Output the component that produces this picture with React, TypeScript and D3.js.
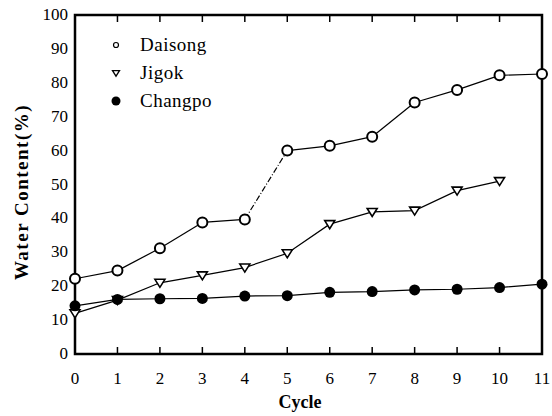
import React, { useEffect, useRef } from 'react';
import * as d3 from 'd3';

const cycles = [0, 1, 2, 3, 4, 5, 6, 7, 8, 9, 10, 11];
const daisong = [22.2, 24.6, 31.2, 38.8, 39.7, 60.0, 61.4, 64.1, 74.2, 77.9, 82.2, 82.6];
const jigok = [12.0, 15.9, 21.0, 23.2, 25.5, 29.7, 38.3, 41.9, 42.3, 48.2, 51.0];
const changpo = [14.2, 16.1, 16.3, 16.4, 17.1, 17.2, 18.2, 18.4, 18.9, 19.1, 19.6, 20.6];
const yTicks = [0, 10, 20, 30, 40, 50, 60, 70, 80, 90, 100];
const legendNames = ['Daisong', 'Jigok', 'Changpo'];

const W = 552;
const H = 416;
const FONT = "'Times New Roman', Times, 'Liberation Serif', Tinos, 'Noto Serif', 'DejaVu Serif', serif";

const App: React.FC = () => {
  const ref = useRef<SVGSVGElement>(null);

  useEffect(() => {
    const svg = d3.select(ref.current);
    svg.selectAll('*').remove();

    const left = 75, right = 542, top = 15, bottom = 354;
    const x = d3.scaleLinear().domain([0, 11]).range([left, right]);
    const y = d3.scaleLinear().domain([0, 100]).range([bottom, top]);

    // frame
    svg.append('rect')
      .attr('x', left).attr('y', top)
      .attr('width', right - left).attr('height', bottom - top)
      .attr('fill', 'none').attr('stroke', '#000').attr('stroke-width', 2.5);

    // ticks, inward on top and bottom
    const g = svg.append('g');
    cycles.forEach(c => {
      g.append('line').attr('x1', x(c)).attr('x2', x(c)).attr('y1', bottom).attr('y2', bottom - 7)
        .attr('stroke', '#000').attr('stroke-width', 1.5);
      g.append('line').attr('x1', x(c)).attr('x2', x(c)).attr('y1', top).attr('y2', top + 7)
        .attr('stroke', '#000').attr('stroke-width', 1.5);
      g.append('text').attr('x', x(c)).attr('y', bottom + 30)
        .attr('text-anchor', 'middle').style('font-family', FONT).style('font-size', '17px')
        .text(String(c));
    });
    yTicks.forEach(t => {
      g.append('text').attr('x', 68).attr('y', y(t) + 5)
        .attr('text-anchor', 'end').style('font-family', FONT).style('font-size', '17px')
        .text(String(t));
    });

    const line = d3.line<number>().x((_, i) => x(cycles[i])).y(d => y(d));

    // Daisong drawn in segments so the 4-5 link can be dashed like the scan
    daisong.slice(1).forEach((d, i) => {
      svg.append('path')
        .attr('d', line.x((_, j) => x(cycles[i + j]))([daisong[i], d]) || '')
        .attr('fill', 'none').attr('stroke', '#000').attr('stroke-width', 1.2)
        .attr('stroke-dasharray', i === 4 ? '6,2,1,2' : null);
    });
    line.x((_, i) => x(cycles[i]));
    svg.append('path').attr('d', line(jigok) || '')
      .attr('fill', 'none').attr('stroke', '#000').attr('stroke-width', 1.2);
    svg.append('path').attr('d', line(changpo) || '')
      .attr('fill', 'none').attr('stroke', '#000').attr('stroke-width', 1.2);

    const tri = (cx: number, cy: number, s: number) =>
      `M${cx - s},${cy - s * 0.7}L${cx + s},${cy - s * 0.7}L${cx},${cy + s * 0.9}Z`;

    svg.append('g').selectAll('circle').data(daisong).enter().append('circle')
      .attr('cx', (_, i) => x(cycles[i])).attr('cy', d => y(d)).attr('r', 5)
      .attr('fill', '#fff').attr('stroke', '#000').attr('stroke-width', 2);
    svg.append('g').selectAll('path').data(jigok).enter().append('path')
      .attr('d', (d, i) => tri(x(cycles[i]), y(d), 5))
      .attr('fill', '#fff').attr('stroke', '#000').attr('stroke-width', 1.6);
    svg.append('g').selectAll('circle').data(changpo).enter().append('circle')
      .attr('cx', (_, i) => x(cycles[i])).attr('cy', d => y(d)).attr('r', 5.5)
      .attr('fill', '#000');

    // legend
    const lg = svg.append('g');
    const ly = [45, 73, 101];
    lg.append('circle').attr('cx', 116).attr('cy', ly[0]).attr('r', 2.5)
      .attr('fill', '#fff').attr('stroke', '#000').attr('stroke-width', 1.2);
    lg.append('path').attr('d', tri(116, ly[1], 3.5))
      .attr('fill', '#fff').attr('stroke', '#000').attr('stroke-width', 1.3);
    lg.append('circle').attr('cx', 116).attr('cy', ly[2]).attr('r', 4.5).attr('fill', '#000');
    legendNames.forEach((n, i) => {
      lg.append('text').attr('x', 140).attr('y', ly[i] + 6)
        .style('font-family', FONT).style('font-size', '19px').style('letter-spacing', '0.5px').text(n);
    });

    // axis titles
    svg.append('text').attr('x', 300).attr('y', 408).attr('text-anchor', 'middle')
      .style('font-family', FONT).style('font-size', '18px').style('font-weight', 'bold').text('Cycle');
    svg.append('text').attr('transform', `translate(28,${192}) rotate(-90)`)
      .attr('text-anchor', 'middle').style('font-family', FONT).style('font-size', '19px')
      .style('font-weight', 'bold').style('letter-spacing', '1.5px').text('Water  Content(%)');
  }, []);

  return (
    <svg ref={ref} width={W} height={H}
      style={{ position: 'absolute', left: 0, top: 0, background: '#fff' }} />
  );
};

export default App;
